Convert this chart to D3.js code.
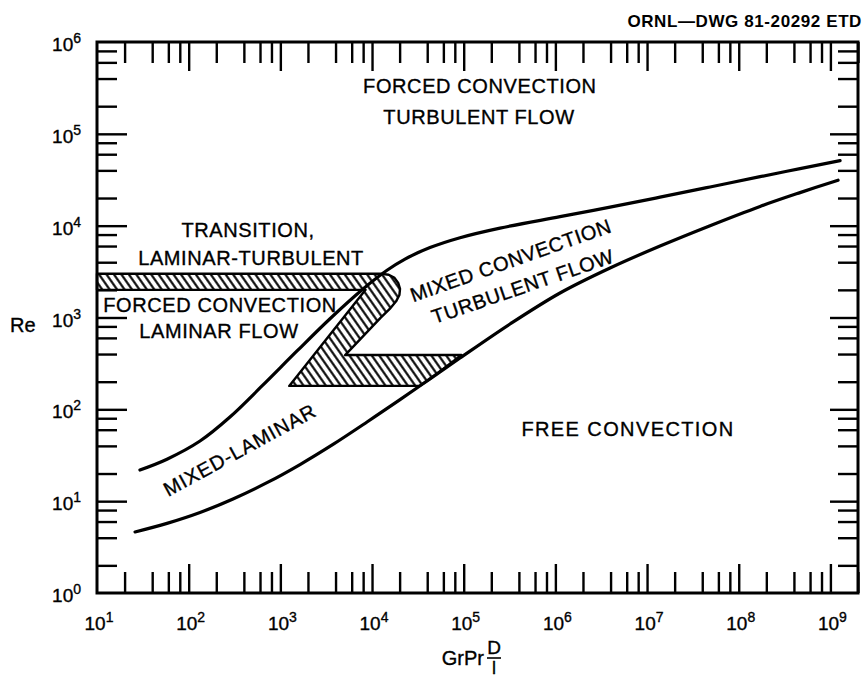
<!DOCTYPE html>
<html><head><meta charset="utf-8">
<script src="https://cdn.jsdelivr.net/npm/d3@7"></script>
<style>body{margin:0;background:#fff}</style>
</head><body>
<svg id="c" width="866" height="685"></svg>
<script>
// ---------- DATA ----------
const xDomain = [10, 2e9];
const yDomain = [1, 1e6];
const xExponents = [1, 2, 3, 4, 5, 6, 7, 8, 9];
const yExponents = [0, 1, 2, 3, 4, 5, 6];
const minorMultipliers = [2, 4, 6, 8];

// boundary between forced (laminar / turbulent) and mixed regimes
const upperBoundary = [
  [29.4, 21.85], [58, 28.65], [133, 45.2], [282, 82.5], [631, 179.6],
  [1520, 432], [3480, 970], [7980, 2044], [14580, 3268], [22900, 4326],
  [42900, 5772], [91200, 7398], [249000, 9412], [1.124e6, 12530],
  [3.947e6, 15900], [1.386e7, 20420], [4.867e7, 26380], [1.709e8, 34160],
  [4.667e8, 41740], [1.275e9, 51010]
];
// boundary between mixed regimes and free convection
const lowerBoundary = [
  [26, 4.62], [58, 5.73], [133, 7.53], [304.5, 10.56], [715, 15.89],
  [1639, 25.07], [3754, 41.5], [8819, 72.8], [20210, 127.7], [42920, 214.6],
  [91200, 362.4], [320200, 849.8], [1.124e6, 1849], [3.947e6, 3460],
  [1.386e7, 6005], [4.867e7, 10000], [1.709e8, 16200], [4.667e8, 22900],
  [1.212e9, 31280]
];
// hatched transition zone outline
const transitionZone = [
  [10, 3000], [12300, 3000], [15200, 2920], [17600, 2700], [19300, 2380],
  [20200, 2050], [19900, 1760], [18300, 1500], [15600, 1240], [12300, 984],
  [7820, 611], [5090, 390], [94600, 390], [42920, 214.6], [33100, 180],
  [1250, 180], [8500, 2000], [10, 2000]
];
const regionLabels = [
  "FORCED CONVECTION", "TURBULENT FLOW", "TRANSITION,", "LAMINAR-TURBULENT",
  "FORCED CONVECTION", "LAMINAR FLOW", "MIXED CONVECTION", "TURBULENT FLOW",
  "MIXED-LAMINAR", "FREE CONVECTION"
];
const drawingNumber = "ORNL\u2014DWG 81-20292 ETD";
const yTitle = "Re";
const xTitle = "GrPr";
const xTitleFraction = ["D", "l"];

// ---------- CHART ----------
const svg = d3.select("#c");
const L = 97, R = 858, T = 42, B = 593;
const x = d3.scaleLog().domain(xDomain).range([L, R]);
const y = d3.scaleLog().domain(yDomain).range([B, T]);
const font = "'Liberation Sans', Arial, Helvetica, sans-serif";

const defs = svg.append("defs");
const pat = defs.append("pattern").attr("id", "hatch")
  .attr("patternUnits", "userSpaceOnUse").attr("width", 6.1).attr("height", 10)
  .attr("patternTransform", "rotate(-35)");
pat.append("line").attr("x1", 3.05).attr("x2", 3.05).attr("y1", -2).attr("y2", 12)
  .attr("stroke", "#000").attr("stroke-width", 2.1);

const line = d3.line().x(d => x(d[0])).y(d => y(d[1])).curve(d3.curveLinearClosed);

// hatched zone
svg.append("path").datum(transitionZone).attr("d", line)
  .attr("fill", "url(#hatch)").attr("stroke", "#000").attr("stroke-width", 2.4)
  .attr("stroke-linejoin", "round");

// curves
const smooth = d3.line().x(d => x(d[0])).y(d => y(d[1])).curve(d3.curveCatmullRom.alpha(0.5));
[upperBoundary, lowerBoundary].forEach(data => {
  svg.append("path").datum(data).attr("d", smooth)
    .attr("fill", "none").attr("stroke", "#000").attr("stroke-width", 3.2)
    .attr("stroke-linecap", "round");
});

// tick values
const xMinor = [], yMinor = [];
xExponents.slice(0, -1).forEach(e => minorMultipliers.forEach(m => xMinor.push(m * 10 ** e)));
xMinor.push(2e9);
yExponents.slice(0, -1).forEach(e => minorMultipliers.forEach(m => yMinor.push(m * 10 ** e)));
const xMajor = xExponents.slice(1).map(e => 10 ** e);
const yMajor = yExponents.slice(1, -1).map(e => 10 ** e);

function ticks(gen, values, size, tr) {
  svg.append("g").attr("transform", tr)
    .call(gen.tickValues(values).tickSize(size).tickFormat(""))
    .call(g => g.select(".domain").remove())
    .call(g => g.selectAll("line").attr("stroke", "#000").attr("stroke-width", 2.4));
}
ticks(d3.axisTop(x), xMinor, 21, `translate(0,${B})`);
ticks(d3.axisTop(x), xMajor, 29, `translate(0,${B})`);
ticks(d3.axisBottom(x), xMinor, 21, `translate(0,${T})`);
ticks(d3.axisBottom(x), xMajor, 29, `translate(0,${T})`);
ticks(d3.axisRight(y), yMinor, 20, `translate(${L},0)`);
ticks(d3.axisRight(y), yMajor, 30, `translate(${L},0)`);
ticks(d3.axisLeft(y), yMinor, 20, `translate(${R},0)`);
ticks(d3.axisLeft(y), yMajor, 28, `translate(${R},0)`);

// frame
svg.append("rect").attr("x", L).attr("y", T).attr("width", R - L).attr("height", B - T)
  .attr("fill", "none").attr("stroke", "#000").attr("stroke-width", 3);

const ink = sel => sel.attr("fill", "#000").attr("stroke", "#000").attr("stroke-width", 0.35);

// tick labels
function powLabel(sel, e) {
  sel.append("tspan").text("10");
  sel.append("tspan").attr("dy", -8).attr("font-size", 14).text(e);
}
xExponents.forEach(e => {
  const t = svg.append("text").attr("x", x(10 ** e) + 2).attr("y", 630)
    .attr("text-anchor", "middle").attr("font-family", font).attr("font-size", 19).call(ink);
  powLabel(t, e);
});
yExponents.forEach(e => {
  const t = svg.append("text").attr("x", 81).attr("y", y(10 ** e) + 9)
    .attr("text-anchor", "end").attr("font-family", font).attr("font-size", 19).call(ink);
  powLabel(t, e);
});

// titles
svg.append("text").attr("x", 10).attr("y", 332).attr("font-family", font)
  .attr("font-size", 20).call(ink).text(yTitle);
svg.append("text").attr("x", 484).attr("y", 665).attr("text-anchor", "end")
  .attr("font-family", font).attr("font-size", 20).call(ink).text(xTitle);
svg.append("text").attr("x", 494).attr("y", 654).attr("text-anchor", "middle")
  .attr("font-family", font).attr("font-size", 19).call(ink).text(xTitleFraction[0]);
svg.append("line").attr("x1", 487).attr("x2", 501).attr("y1", 658).attr("y2", 658)
  .attr("stroke", "#000").attr("stroke-width", 1.6);
svg.append("text").attr("x", 494).attr("y", 674).attr("text-anchor", "middle")
  .attr("font-family", font).attr("font-size", 18).call(ink).text(xTitleFraction[1]);

svg.append("text").attr("x", 862).attr("y", 27).attr("text-anchor", "end")
  .attr("font-family", font).attr("font-size", 17).attr("font-weight", "bold")
  .attr("letter-spacing", 0.6).text(drawingNumber);

// region labels (positions in data coordinates)
const labelLayout = [
  [1.5e5, 2.8e5, 0], [1.47e5, 1.28e5, 0], [444, 7530, 0], [479, 3730, 0],
  [220, 1148, 0], [214, 598, 0], [3.45e5, 3550, -19.5], [4.67e5, 1850, -19],
  [392, 31, -28.7], [6.2e6, 51, 0]
];
const labelSpacing = [0.6, 0.6, 0.6, 0.6, 0.6, 0.6, 0.6, 0.6, 0.9, 1.4];
regionLabels.forEach((txt, i) => {
  const [vx, vy, a] = labelLayout[i];
  svg.append("text")
    .attr("transform", `translate(${x(vx)},${y(vy)}) rotate(${a})`)
    .attr("text-anchor", "middle").attr("font-family", font).attr("font-size", 20)
    .attr("letter-spacing", labelSpacing[i]).call(ink).text(txt);
});
</script>
</body></html>
